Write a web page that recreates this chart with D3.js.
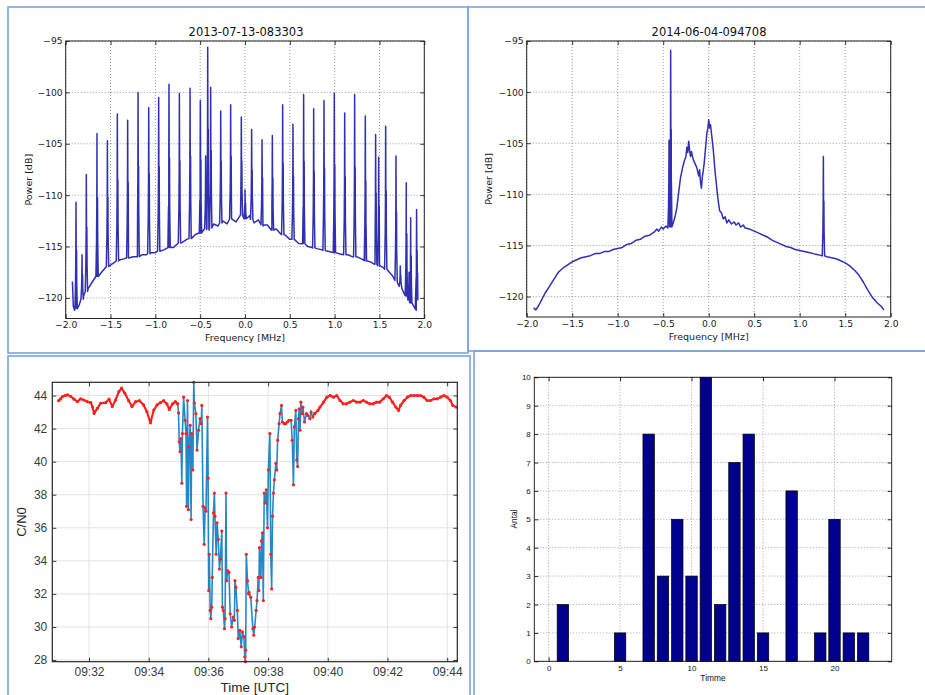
<!DOCTYPE html>
<html>
<head>
<meta charset="utf-8">
<script src="https://cdn.jsdelivr.net/npm/d3@7"></script>
<style>
  body { margin: 0; background: #fff; }
  svg { display: block; }
</style>
</head>
<body>
<svg id="fig" width="925" height="695"></svg>
<script>
// ---- data ----

// spectrum 2013-07-13-083303: noise floor [MHz, dB] and carrier spikes [MHz, peak dB]
var spec1Floor = [
  [-1.925,-118.4],[-1.915,-120.8],[-1.90,-121.2],[-1.88,-121.0],[-1.85,-120.7],[-1.80,-119.8],[-1.75,-119.1],
  [-1.70,-118.4],[-1.65,-117.9],[-1.60,-117.5],[-1.55,-117.0],[-1.50,-116.8],[-1.45,-116.5],[-1.40,-116.3],
  [-1.35,-116.2],[-1.30,-116.1],[-1.25,-116.0],[-1.20,-116.0],[-1.15,-115.8],[-1.10,-115.8],[-1.05,-115.6],
  [-1.00,-115.6],[-0.95,-115.4],[-0.90,-115.3],[-0.85,-115.1],[-0.80,-115.1],[-0.75,-114.7],[-0.70,-114.6],
  [-0.65,-114.3],[-0.60,-114.2],[-0.55,-113.8],[-0.50,-113.7],[-0.45,-113.2],[-0.40,-113.4],[-0.35,-112.8],
  [-0.30,-113.0],[-0.25,-112.5],[-0.20,-112.8],[-0.15,-112.2],[-0.10,-112.6],[-0.05,-111.9],[0.00,-112.3],
  [0.05,-112.0],[0.10,-112.7],[0.15,-112.4],[0.20,-113.0],[0.25,-112.9],[0.30,-113.4],[0.35,-113.3],
  [0.40,-113.8],[0.45,-113.9],[0.50,-114.3],[0.55,-114.3],[0.60,-114.7],[0.65,-114.7],[0.70,-115.0],
  [0.75,-115.1],[0.80,-115.2],[0.85,-115.3],[0.90,-115.4],[0.95,-115.5],[1.00,-115.6],[1.05,-115.7],
  [1.10,-115.8],[1.15,-115.8],[1.20,-116.0],[1.25,-116.0],[1.30,-116.2],[1.35,-116.4],[1.40,-116.5],
  [1.45,-116.7],[1.50,-116.9],[1.55,-117.1],[1.60,-117.4],[1.65,-117.9],[1.70,-118.5],[1.75,-119.1],
  [1.80,-119.8],[1.85,-120.5],[1.90,-121.1],[1.91,-121.2],[1.925,-117.6]
];
var spec1Spikes = [
  [-1.885,-110.7],[-1.818,-115.8],[-1.770,-108.0],[-1.651,-104.0],[-1.535,-104.7],[-1.424,-102.1],
  [-1.309,-102.7],[-1.193,-100.0],[-1.074,-101.5],[-0.963,-100.5],[-0.848,-99.2],[-0.732,-100.1],
  [-0.613,-99.6],[-0.498,-100.8],[-0.439,-106.2],[-0.416,-95.6],[-0.383,-99.5],[-0.271,-101.8],
  [-0.160,-101.2],[-0.041,-102.4],[0.000,-109.5],[0.074,-103.6],[0.190,-104.6],[0.305,-104.2],
  [0.420,-101.2],[0.535,-103.1],[0.654,-100.2],[0.766,-101.6],[0.881,-100.8],[0.996,-100.1],
  [1.112,-102.0],[1.223,-100.2],[1.342,-102.3],[1.457,-104.1],[1.491,-106.3],[1.569,-103.3],
  [1.684,-106.2],[1.732,-116.9],[1.799,-108.8],[1.830,-117.5],[1.848,-112.2],[1.914,-111.4]
];

// spectrum 2014-06-04-094708
var spec2Floor = [
  [-1.925,-121.1],[-1.90,-121.3],[-1.87,-120.9],[-1.84,-120.4],[-1.80,-119.7],[-1.75,-119.0],[-1.70,-118.3],
  [-1.65,-117.6],[-1.60,-117.2],[-1.55,-116.9],[-1.50,-116.6],[-1.45,-116.4],[-1.40,-116.2],[-1.35,-116.1],
  [-1.30,-116.0],[-1.25,-115.8],[-1.20,-115.8],[-1.15,-115.6],[-1.10,-115.6],[-1.05,-115.4],[-1.00,-115.3],
  [-0.95,-115.2],[-0.90,-114.9],[-0.85,-114.8],[-0.80,-114.5],[-0.75,-114.4],[-0.70,-114.1],[-0.65,-114.0],
  [-0.60,-113.7],[-0.57,-113.4],[-0.55,-113.6],[-0.52,-113.2],[-0.50,-113.4],[-0.47,-113.1],[-0.45,-113.3],
  [-0.43,-113.1],[-0.41,-113.2],[-0.39,-112.8],[-0.37,-112.2],[-0.35,-111.3],[-0.33,-109.8],[-0.31,-108.4],
  [-0.29,-107.5],[-0.27,-106.8],[-0.25,-106.3],[-0.24,-105.4],[-0.23,-105.9],[-0.22,-104.8],[-0.21,-105.7],
  [-0.20,-106.3],[-0.19,-105.8],[-0.17,-106.6],[-0.15,-107.0],[-0.13,-107.4],[-0.11,-108.2],[-0.10,-107.6],
  [-0.09,-108.8],[-0.08,-109.4],[-0.07,-108.3],[-0.06,-107.7],[-0.05,-107.0],[-0.04,-106.0],[-0.03,-105.0],
  [-0.02,-104.0],[-0.01,-103.6],[0.00,-102.7],[0.01,-103.5],[0.02,-103.2],[0.03,-104.0],[0.04,-104.8],
  [0.05,-105.6],[0.06,-106.7],[0.07,-107.8],[0.08,-108.6],[0.09,-109.5],[0.10,-110.3],[0.11,-111.0],
  [0.12,-111.6],[0.14,-111.8],[0.16,-112.4],[0.18,-112.2],[0.20,-112.8],[0.22,-112.5],[0.25,-112.9],
  [0.28,-112.7],[0.30,-113.0],[0.33,-112.8],[0.35,-113.2],[0.38,-113.0],[0.40,-113.3],[0.45,-113.4],
  [0.50,-113.6],[0.55,-113.8],[0.60,-114.0],[0.65,-114.2],[0.70,-114.5],[0.75,-114.7],[0.80,-114.9],
  [0.85,-115.1],[0.90,-115.2],[0.95,-115.4],[1.00,-115.5],[1.05,-115.6],[1.10,-115.7],[1.15,-115.8],
  [1.20,-115.9],[1.30,-116.1],[1.35,-116.2],[1.40,-116.3],[1.45,-116.5],[1.50,-116.7],[1.55,-117.0],
  [1.60,-117.4],[1.65,-117.9],[1.70,-118.6],[1.75,-119.4],[1.80,-120.1],[1.85,-120.6],[1.90,-121.0],
  [1.925,-121.3]
];
var spec2Spikes = [[-0.436,-104.7],[-0.418,-95.9],[1.260,-106.3]];

// C/N0 against time [minutes after 09:00, dB-Hz]
var cnBefore = [
  [30.98,43.69],[31.05,43.80],[31.11,43.94],[31.20,44.00],[31.28,44.04],[31.39,43.94],[31.50,43.78],
  [31.61,43.63],[31.72,43.80],[31.83,43.73],[31.94,43.63],[32.06,43.57],[32.12,43.30],[32.17,42.92],
  [32.28,43.22],[32.39,43.53],[32.56,43.57],[32.67,43.78],[32.78,43.33],[32.89,43.73],[33.00,44.24],
  [33.09,44.45],[33.20,44.14],[33.33,43.69],[33.44,43.33],[33.56,43.63],[33.69,43.69],[33.83,43.43],
  [33.94,43.02],[34.06,42.35],[34.17,43.12],[34.28,43.43],[34.39,43.57],[34.50,43.69],[34.61,43.49],
  [34.69,43.16],[34.80,43.49],[34.89,43.63],[34.97,43.50]
];
var cnDip = [
  [34.97,43.50],[35.00,42.95],[35.02,41.2],[35.05,40.6],[35.08,41.4],[35.11,38.7],[35.13,41.7],[35.17,43.9],
  [35.22,42.5],[35.25,41.7],[35.27,37.3],[35.30,43.7],[35.33,37.1],[35.35,40.9],[35.39,42.2],
  [35.42,36.5],[35.44,41.7],[35.48,39.5],[35.51,44.8],[35.53,43.55],[35.58,42.9],[35.62,40.7],
  [35.67,41.9],[35.72,42.6],[35.76,42.3],[35.78,43.4],[35.82,37.3],[35.86,35.0],[35.89,37.2],
  [35.92,37.0],[35.97,42.7],[35.99,39.0],[36.01,32.2],[36.03,34.4],[36.06,31.0],[36.08,30.5],
  [36.11,31.2],[36.13,33.0],[36.17,36.9],[36.20,38.1],[36.22,36.7],[36.26,34.4],[36.29,36.3],
  [36.33,35.3],[36.37,33.5],[36.40,34.1],[36.45,35.8],[36.47,31.2],[36.50,31.0],[36.54,29.9],
  [36.56,30.5],[36.59,38.1],[36.61,32.8],[36.65,33.4],[36.69,33.3],[36.73,30.8],[36.78,30.0],
  [36.83,30.6],[36.87,30.4],[36.89,32.8],[36.92,32.4],[36.97,31.0],[37.00,29.3],[37.05,29.8],
  [37.10,28.8],[37.14,29.7],[37.19,29.4],[37.22,28.2],[37.24,27.9],[37.25,28.6],[37.27,34.4],
  [37.31,32.8],[37.35,32.0],[37.36,32.1],[37.42,31.8],[37.49,29.9],[37.52,29.5],[37.55,30.0],
  [37.60,31.0],[37.63,31.6],[37.67,33.0],[37.69,32.2],[37.71,34.8],[37.76,33.0],[37.78,35.2],
  [37.81,35.7],[37.84,31.6],[37.87,38.1],[37.90,37.5],[37.94,38.3],[37.98,36.0],[38.01,39.5],
  [38.06,41.7],[38.09,34.4],[38.12,32.3],[38.15,36.7],[38.18,38.1],[38.21,38.9],[38.26,39.9],
  [38.29,39.5],[38.32,41.3],[38.37,42.3],[38.40,42.9],[38.45,43.4],[38.48,42.4],[38.54,42.3],
  [38.59,42.3],[38.65,42.4],[38.70,42.5],[38.77,42.5],[38.81,41.3],[38.85,38.6],[38.88,42.1],
  [38.93,43.1],[38.96,40.1],[38.99,39.7],[39.02,42.6],[39.04,43.2],[39.07,41.9],[39.10,43.6],
  [39.14,42.9],[39.17,43.3],[39.22,42.4],[39.29,42.9],[39.33,42.8],[39.40,42.6],[39.44,43.0],
  [39.50,42.7],[39.56,42.9]
];
var cnAfter = [
  [39.56,42.9],[39.67,43.1],[39.74,43.3],[39.86,43.6],[39.97,43.9],[40.08,44.0],[40.19,43.9],[40.30,44.0],
  [40.41,43.7],[40.52,43.5],[40.63,43.5],[40.74,43.6],[40.86,43.7],[40.97,43.6],[41.08,43.6],
  [41.19,43.7],[41.30,43.6],[41.41,43.5],[41.52,43.5],[41.63,43.6],[41.74,43.6],[41.86,43.8],
  [41.97,44.0],[42.06,43.9],[42.17,43.6],[42.28,43.3],[42.37,43.1],[42.44,43.4],[42.56,43.7],
  [42.67,43.9],[42.78,44.0],[42.89,44.0],[43.00,44.0],[43.11,44.0],[43.22,43.9],[43.33,43.7],
  [43.44,43.7],[43.56,43.8],[43.67,43.8],[43.78,43.9],[43.89,44.0],[44.00,43.9],[44.11,43.7],
  [44.19,43.4],[44.30,43.3]
];

// events per hour
var hours  = [1, 5, 7, 8, 9, 10, 11, 12, 13, 14, 15, 17, 19, 20, 21, 22];
var counts = [2, 1, 8, 3, 5, 3, 10, 2, 7, 8, 1, 6, 1, 5, 1, 1];

// tick values
var freqTicks  = [-2, -1.5, -1, -0.5, 0, 0.5, 1, 1.5, 2];
var powerTicks = [-120, -115, -110, -105, -100, -95];
var timeTicks  = [32, 34, 36, 38, 40, 42, 44];
var cnTicks    = [28, 30, 32, 34, 36, 38, 40, 42, 44];
var hourTicks  = [0, 5, 10, 15, 20];
var countTicks = [0, 1, 2, 3, 4, 5, 6, 7, 8, 9, 10];

// ---- drawing ----
var svg = d3.select('#fig');
var mplFont = 'DejaVu Sans, sans-serif',
    matFont = 'Liberation Sans, Arial, sans-serif';

// panel frames
[[8, 7, 460, 346], [468, 7, 462, 344], [8, 356, 462, 345], [474, 351, 456, 350]].forEach(function (f) {
  svg.append('rect')
    .attr('x', f[0]).attr('y', f[1]).attr('width', f[2]).attr('height', f[3])
    .attr('fill', 'none').attr('stroke', '#7ba4dc').attr('stroke-width', 1.6);
});

function drawAxes(g, x, y, box, o) {
  // grid
  g.append('g').selectAll('line').data(o.xt).join('line')
    .attr('x1', x).attr('x2', x).attr('y1', box.t).attr('y2', box.b)
    .attr('stroke', o.gridColor).attr('stroke-width', o.gridWidth)
    .attr('stroke-dasharray', o.gridDash);
  g.append('g').selectAll('line').data(o.yt).join('line')
    .attr('y1', y).attr('y2', y).attr('x1', box.l).attr('x2', box.r)
    .attr('stroke', o.gridColor).attr('stroke-width', o.gridWidth)
    .attr('stroke-dasharray', o.gridDash);
}

function drawTicks(g, x, y, box, o) {
  var axes = [
    [d3.axisBottom(x).tickValues(o.xt).tickFormat(o.xf), 'translate(0,' + box.b + ')', o.xpad],
    [d3.axisTop(x).tickValues(o.xt).tickFormat(''), 'translate(0,' + box.t + ')', 0],
    [d3.axisLeft(y).tickValues(o.yt).tickFormat(o.yf), 'translate(' + box.l + ',0)', o.ypad],
    [d3.axisRight(y).tickValues(o.yt).tickFormat(''), 'translate(' + box.r + ',0)', 0]
  ];
  axes.forEach(function (a) {
    var ag = g.append('g').attr('transform', a[1])
      .call(a[0].tickSize(-o.tick).tickPadding(a[2]));
    ag.select('.domain').remove();
    ag.selectAll('line').attr('stroke', o.axisColor).attr('stroke-width', 0.9);
    ag.selectAll('text').attr('font-family', o.font).attr('font-size', o.tickSize)
      .attr('fill', o.textColor);
  });
  g.append('rect')
    .attr('x', box.l).attr('y', box.t).attr('width', box.r - box.l).attr('height', box.b - box.t)
    .attr('fill', 'none').attr('stroke', o.axisColor).attr('stroke-width', o.frameWidth);
}

function label(g, text, cx, cy, size, font, color, rotate) {
  g.append('text')
    .attr('transform', 'translate(' + cx + ',' + cy + ')' + (rotate ? ' rotate(-90)' : ''))
    .attr('text-anchor', 'middle').attr('dy', '0.35em')
    .attr('font-family', font).attr('font-size', size).attr('fill', color)
    .text(text);
}

// spectrum: noise floor plus narrow spikes drawn as a single trace
function spectrumTrace(floor, spikes) {
  var fx = floor.map(function (d) { return d[0]; });
  function floorAt(f) {
    var i = d3.bisectLeft(fx, f);
    if (i <= 0) return floor[0][1];
    if (i >= floor.length) return floor[floor.length - 1][1];
    var a = floor[i - 1], b = floor[i];
    return a[1] + (b[1] - a[1]) * (f - a[0]) / (b[0] - a[0]);
  }
  var pts = floor.slice();
  spikes.forEach(function (s) {
    var f = s[0], p = s[1], b = floorAt(f);
    pts.push([f - 0.012, b], [f - 0.005, b + 0.25 * (p - b)], [f - 0.002, b + 0.5 * (p - b)], [f, p],
             [f + 0.003, b + 0.4 * (p - b)], [f + 0.006, b + 0.55 * (p - b)],
             [f + 0.008, b + 0.25 * (p - b)], [f + 0.014, b]);
  });
  pts.sort(function (a, b) { return a[0] - b[0]; });
  return pts;
}

function spectrumPanel(box, title, floor, spikes, titleX, ylabX) {
  var g = svg.append('g');
  var x = d3.scaleLinear().domain([-2, 2]).range([box.l, box.r]);
  var y = d3.scaleLinear().domain([-122, -95]).range([box.b, box.t]);
  var o = {
    xt: freqTicks, yt: powerTicks,
    xf: d3.format('.1f'), yf: d3.format('d'),
    gridColor: '#555', gridWidth: 0.6, gridDash: '1,2',
    axisColor: '#222', frameWidth: 1, tick: 4,
    font: mplFont, tickSize: 9.2, textColor: '#222',
    xpad: 3, ypad: 3
  };
  drawAxes(g, x, y, box, o);
  var line = d3.line().x(function (d) { return x(d[0]); }).y(function (d) { return y(d[1]); });
  g.append('path').datum(spectrumTrace(floor, spikes))
    .attr('d', line).attr('fill', 'none')
    .attr('stroke', '#1a1aa8').attr('stroke-width', 1.5).attr('stroke-opacity', 0.9)
    .attr('stroke-linejoin', 'round');
  drawTicks(g, x, y, box, o);
  label(g, title, titleX, box.t - 9, 11.5, mplFont, '#111');
  label(g, 'Frequency [MHz]', (box.l + box.r) / 2, box.b + 19.5, 9.5, mplFont, '#222');
  label(g, 'Power [dB]', ylabX, (box.t + box.b) / 2, 9.5, mplFont, '#222', true);
}

spectrumPanel({ l: 65.7, r: 424.3, t: 41, b: 318.5 }, '2013-07-13-083303', spec1Floor, spec1Spikes, 246, 29);
spectrumPanel({ l: 526.7, r: 890.7, t: 41, b: 317 }, '2014-06-04-094708', spec2Floor, spec2Spikes, 709, 489);

// C/N0 panel
(function () {
  var box = { l: 52.3, r: 457.3, t: 382.3, b: 661.7 };
  var g = svg.append('g');
  var x = d3.scaleLinear().domain([30.77, 44.34]).range([box.l, box.r]);
  var y = d3.scaleLinear().domain([27.9, 44.8]).range([box.b, box.t]);
  var o = {
    xt: timeTicks, yt: cnTicks,
    xf: function (d) { return '09:' + d; }, yf: d3.format('d'),
    gridColor: '#e3e3e3', gridWidth: 1, gridDash: null,
    axisColor: '#262626', frameWidth: 1.2, tick: 4,
    font: matFont, tickSize: 12, textColor: '#3a3a3a',
    xpad: 5.5, ypad: 5
  };
  drawAxes(g, x, y, box, o);
  var line = d3.line().x(function (d) { return x(d[0]); }).y(function (d) { return y(d[1]); });
  g.append('path').datum(cnDip).attr('d', line).attr('fill', 'none')
    .attr('stroke', '#0072bd').attr('stroke-width', 1.6).attr('stroke-opacity', 0.85);
  [cnBefore, cnAfter].forEach(function (s) {
    g.append('path').datum(s).attr('d', line).attr('fill', 'none')
      .attr('stroke', '#ff1a1a').attr('stroke-width', 2.1).attr('stroke-linejoin', 'round');
  });
  g.append('g').selectAll('circle').data(cnBefore.concat(cnDip, cnAfter)).join('circle')
    .attr('cx', function (d) { return x(d[0]); }).attr('cy', function (d) { return y(d[1]); })
    .attr('r', 1.6).attr('fill', '#ff2020');
  drawTicks(g, x, y, box, o);
  label(g, 'Time [UTC]', (box.l + box.r) / 2, 687, 13.5, matFont, '#262626');
  label(g, 'C/N0', 21, 522, 13, matFont, '#262626', true);
})();

// hourly bar panel
(function () {
  var box = { l: 534.3, r: 891.7, t: 377.3, b: 661.3 };
  var g = svg.append('g');
  var x = d3.scaleLinear().domain([-1, 24]).range([box.l, box.r]);
  var y = d3.scaleLinear().domain([0, 10]).range([box.b, box.t]);
  var o = {
    xt: hourTicks, yt: countTicks,
    xf: d3.format('d'), yf: d3.format('d'),
    gridColor: '#666', gridWidth: 0.6, gridDash: '1,2',
    axisColor: '#111', frameWidth: 0.9, tick: 4,
    font: matFont, tickSize: 8, textColor: '#111',
    xpad: 4.5, ypad: 3.5
  };
  drawAxes(g, x, y, box, o);
  var bw = x(0.8) - x(0);
  g.append('g').selectAll('rect').data(hours).join('rect')
    .attr('x', function (d) { return x(d) - bw / 2; })
    .attr('y', function (d, i) { return y(counts[i]); })
    .attr('width', bw)
    .attr('height', function (d, i) { return y(0) - y(counts[i]); })
    .attr('fill', '#00008f').attr('stroke', '#000').attr('stroke-width', 0.7);
  drawTicks(g, x, y, box, o);
  label(g, 'Timme', 713, 678, 8.4, matFont, '#111');
  label(g, 'Antal', 514, 519, 8.4, matFont, '#111', true);
})();
</script>
</body>
</html>
